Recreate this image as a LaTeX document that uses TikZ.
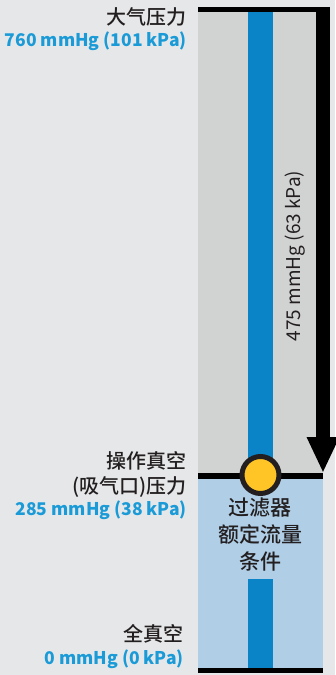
\documentclass[tikz,border=0pt]{standalone}
\usepackage{fontspec}
\setmainfont{Noto Sans CJK SC}
\newfontfamily\medfont{Noto Sans CJK SC Medium}
\usetikzlibrary{calc}
\usetikzlibrary{shapes.geometric, arrows.meta, positioning}

\definecolor{bgGray}{RGB}{230,231,232}
\definecolor{colGray}{RGB}{209,211,210}
\definecolor{stripeBlue}{RGB}{10,132,198}
\definecolor{lowBlue}{RGB}{176,207,231}
\definecolor{ringYellow}{RGB}{255,196,37}
\definecolor{valBlue}{RGB}{26,155,215}
\definecolor{inkBlack}{RGB}{35,31,32}

\begin{document}
\begin{tikzpicture}[x=1pt,y=-1pt,
    levelname/.style={anchor=east, inner sep=0pt, text=inkBlack, font=\medfont\fontsize{20}{25}\selectfont},
    levelvalue/.style={anchor=east, inner sep=0pt, text=valBlue, font=\bfseries\fontsize{17.5}{22}\selectfont}]

% Background
\fill[bgGray] (0,0) rectangle (335,675);
\useasboundingbox (0,0) rectangle (335,675);

% Column: atmosphere down to working vacuum (grey), below it (light blue)
\fill[colGray] (198,12) rectangle (323,476);
\fill[lowBlue] (198,476) rectangle (323,670);

% Blue stripe, broken by the note
\fill[stripeBlue] (248,12) rectangle (273,476);
\fill[stripeBlue] (248,579) rectangle (273,670);

% Black level bars
\fill[black] (198,7) rectangle (330,12);
\fill[black] (198,473) rectangle (323,479);
\fill[black] (198,668) rectangle (323,673);

% Pressure drop arrow
\coordinate (dropTop) at (323,7);
\coordinate (dropTip) at (323,473);
\draw[line width=14pt, -{Triangle[width=30pt,length=36pt]}] (dropTop) -- (dropTip);

% Filter point
\filldraw[fill=ringYellow, draw=inkBlack, line width=5pt] (260.5,475) circle (18.5pt);

% Labels for atmospheric pressure
\node[levelname] (atmName) at (187,17) {大气压力};
\node[levelvalue] (atmValue) at (187,41) {760 mmHg (101 kPa)};

% Labels for working vacuum
\node[levelname, align=right] (workName) at (187,474) {操作真空\\(吸气口)压力};
\node[levelvalue] (workValue) at (187,510) {285 mmHg (38 kPa)};

% Labels for full vacuum
\node[levelname] (vacName) at (184,634) {全真空};
\node[levelvalue] (vacValue) at (184,659) {0 mmHg (0 kPa)};

% Note under the filter point
\node[align=center, inner sep=0pt, text=inkBlack, font=\medfont\fontsize{21}{27}\selectfont] (filterNote) at (260,535) {过滤器\\额定流量\\条件};

% Pressure drop value
\node[rotate=90, inner sep=0pt, text=inkBlack, font=\fontsize{19}{23}\selectfont] (dropValue) at (295,256) {475 mmHg (63 kPa)};

\end{tikzpicture}
\end{document}
